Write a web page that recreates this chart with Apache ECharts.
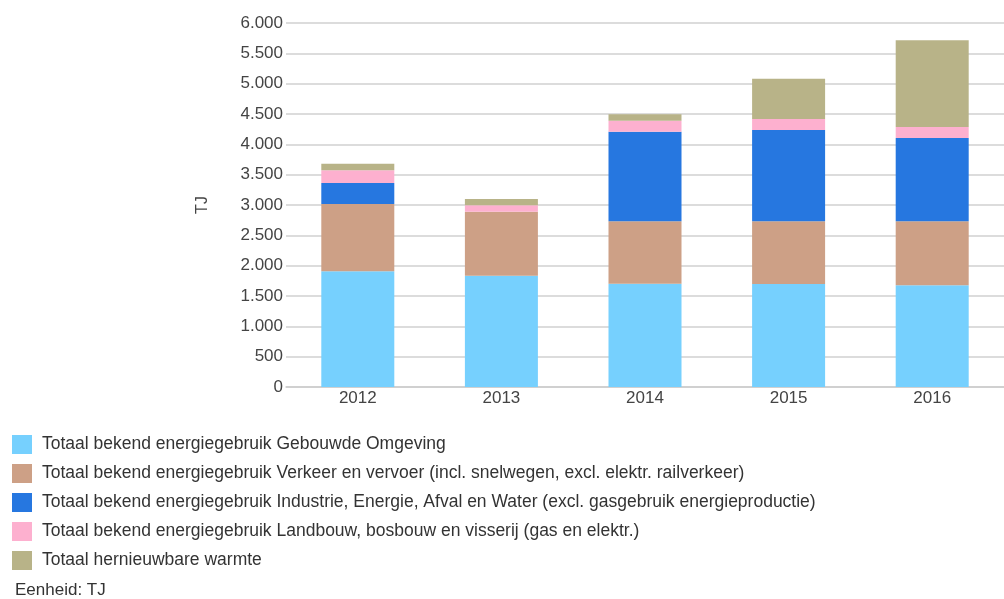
<!DOCTYPE html>
<html>
<head>
<meta charset="utf-8">
<script src="https://cdn.jsdelivr.net/npm/echarts@6/dist/echarts.min.js"></script>
<style>
  html, body { margin: 0; padding: 0; background: #fff; }
  #chart { width: 1004px; height: 599px; }
</style>
</head>
<body>
<div id="chart"></div>
<script>
const years = ['2012', '2013', '2014', '2015', '2016']

// TJ per jaar
const gebouwdeOmgeving = [1907, 1835, 1703, 1698, 1676]
const verkeerVervoer = [1110, 1055, 1028, 1033, 1055]
const industrieEnergie = [347, 0, 1478, 1505, 1373]
const landbouw = [208, 105, 181, 181, 181]
const hernieuwbareWarmte = [110, 104, 105, 665, 1429]

const seriesNames = [
  'Totaal bekend energiegebruik Gebouwde Omgeving',
  'Totaal bekend energiegebruik Verkeer en vervoer (incl. snelwegen, excl. elektr. railverkeer)',
  'Totaal bekend energiegebruik Industrie, Energie, Afval en Water (excl. gasgebruik energieproductie)',
  'Totaal bekend energiegebruik Landbouw, bosbouw en visserij (gas en elektr.)',
  'Totaal hernieuwbare warmte'
]
const seriesData = [gebouwdeOmgeving, verkeerVervoer, industrieEnergie, landbouw, hernieuwbareWarmte]
const colors = ['#76D0FE', '#CDA086', '#2677E0', '#FDB0CF', '#B8B388']

const font = '"Liberation Sans", Arial, sans-serif'

function fmt(v) {
  return String(v).replace(/\B(?=(\d{3})+(?!\d))/g, '.')
}

const chart = echarts.init(document.getElementById('chart'))
chart.setOption({
  animation: false,
  color: colors,
  textStyle: { fontFamily: font },
  grid: { left: 286, top: 23, width: 727, bottom: 212 },
  legend: {
    orient: 'vertical',
    left: 12,
    top: 435,
    padding: 0,
    itemWidth: 20,
    itemHeight: 19,
    itemGap: 10,
    icon: 'rect',
    selectedMode: false,
    textStyle: { fontFamily: font, fontSize: 17.5, color: '#333', padding: [0, 0, 0, 5] },
    data: seriesNames
  },
  graphic: [{
    type: 'text',
    left: 15,
    top: 582,
    style: { text: 'Eenheid: TJ', fontFamily: font, fontSize: 17, fill: '#333' }
  }],
  xAxis: {
    type: 'category',
    data: years,
    axisTick: { show: false },
    axisLine: { lineStyle: { color: '#cccccc', width: 1.5 } },
    axisLabel: { fontSize: 17, color: '#444', margin: 3 }
  },
  yAxis: {
    type: 'value',
    min: 0,
    max: 6000,
    interval: 500,
    name: 'TJ',
    nameLocation: 'middle',
    nameGap: 75,
    nameTextStyle: { fontSize: 16, color: '#444' },
    axisLine: { show: false },
    axisTick: { show: false },
    axisLabel: { fontSize: 17, color: '#444', margin: 3, formatter: fmt },
    splitLine: { lineStyle: { color: '#d0d0d0', width: 1.5 } }
  },
  series: seriesNames.map((name, i) => ({
    name,
    type: 'bar',
    stack: 'totaal',
    barWidth: 73,
    data: seriesData[i]
  }))
})
</script>
</body>
</html>
